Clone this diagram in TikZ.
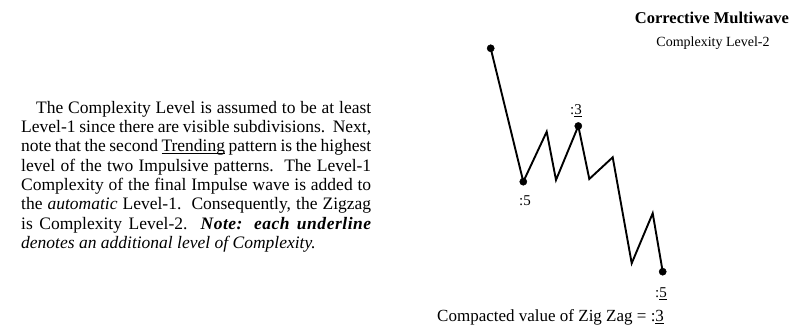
\documentclass[tikz,border=0pt]{standalone}
\usepackage{fontspec}
\setmainfont{Liberation Serif}
\usepackage{tikz}

\begin{document}
\begin{tikzpicture}[x=1pt,y=1pt]
    \useasboundingbox (0,0) rectangle (805,336);
    % -----------------------------------------------------
    % 1) Texto explicativo a la izquierda
    % -----------------------------------------------------
    \node[anchor=north west, text width=350pt, align=justify, inner sep=0pt,
          font=\fontsize{17.5}{19.3}\selectfont] (texto) at (21,235)
    {\hspace*{15pt}The Complexity Level is assumed to be at least\linebreak
     Level-1 since there are visible subdivisions.\ \ Next,\linebreak
     note that the second \underline{\smash{Trending}} pattern is the highest\linebreak
     level of the two Impulsive patterns.\ \ The Level-1\linebreak
     Complexity of the final Impulse wave is added to\linebreak
     the \textit{automatic} Level-1.\ \ Consequently, the Zigzag\linebreak
     is Complexity Level-2.\ \ {\bfseries\itshape\addfontfeature{LetterSpace=3}Note: each underline}\linebreak
     \textit{denotes an additional level of Complexity.}};

    % -----------------------------------------------------
    % 2) Titulo
    % -----------------------------------------------------
    \node[anchor=base, font=\fontsize{16.5}{18}\selectfont\bfseries] (titulo) at (712,312)
        {Corrective Multiwave};
    \node[anchor=base, font=\fontsize{14}{16}\selectfont] (subtitulo) at (713,289)
        {Complexity Level-2};

    % -----------------------------------------------------
    % 3) Puntos de la onda (Zig Zag)
    % -----------------------------------------------------
    \coordinate (p0) at (490.7,287.7);
    \coordinate (p1) at (523.3,154.3);
    \coordinate (p2) at (546.7,204.3);
    \coordinate (p3) at (556.0,156.0);
    \coordinate (p4) at (578.3,210.0);
    \coordinate (p5) at (589.3,157.0);
    \coordinate (p6) at (612.7,178.7);
    \coordinate (p7) at (631.7,72.7);
    \coordinate (p8) at (652.7,122.7);
    \coordinate (p9) at (662.7,64.3);

    \draw[line width=1.9pt, line join=miter]
        (p0) -- (p1) -- (p2) -- (p3) -- (p4) -- (p5) -- (p6) -- (p7) -- (p8) -- (p9);

    % puntos marcados
    \filldraw (p0) circle (3.6pt);
    \filldraw (p1) circle (3.6pt);
    \filldraw (p4) circle (3.6pt);
    \filldraw (p9) circle (3.6pt);

    % -----------------------------------------------------
    % 4) Etiquetas de la onda
    % -----------------------------------------------------
    \node[anchor=base, font=\fontsize{15}{17}\selectfont] (e3) at (576,221) {:\underline{3}};
    \node[anchor=base, font=\fontsize{15}{17}\selectfont] (e5a) at (525,130) {:5};
    \node[anchor=base, font=\fontsize{15}{17}\selectfont] (e5b) at (661,38) {:\underline{5}};

    % valor compactado
    \node[anchor=base west, inner sep=0pt, font=\fontsize{17}{19}\selectfont] (compacto) at (437,14)
        {Compacted value of Zig Zag = :\underline{3}};
\end{tikzpicture}
\end{document}
